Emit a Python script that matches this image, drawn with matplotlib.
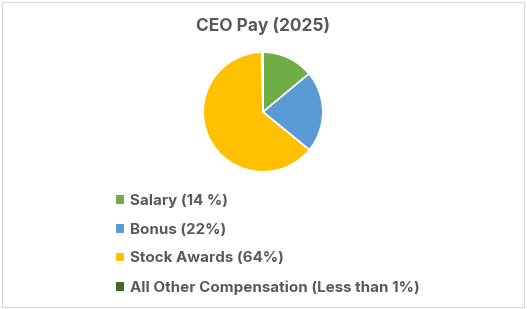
import matplotlib.pyplot as plt
from matplotlib.patches import Patch, Rectangle

# Data
labels = ['Salary (14 %)', 'Bonus (22%)', 'Stock Awards (64%)',
          'All Other Compensation (Less than 1%)']
shares = [14, 22, 64, 0.3]
colors = ['#70AD47', '#5B9BD5', '#FFC000', '#43682B']

plt.rcParams['font.family'] = ['Inter', 'DejaVu Sans']
text_col = '#595959'

fig = plt.figure(figsize=(5.27, 3.09), dpi=100)
fig.patch.set_facecolor('white')

# thin outer border
fig.patches.append(Rectangle((0.004, 0.008), 0.99, 0.985, transform=fig.transFigure,
                             fill=False, edgecolor='#D9D9D9', linewidth=0.8))

fig.text(0.5, 0.915, 'CEO Pay (2025)', ha='center', va='center',
         fontsize=12.5, fontweight='bold', color=text_col)

ax = fig.add_axes([(263 - 61) / 527, 1 - (112 + 61) / 309, 122 / 527, 122 / 309])
ax.pie(shares, colors=colors, startangle=90, counterclock=False,
       wedgeprops=dict(edgecolor='white', linewidth=1.2))
ax.set_xlim(-1.02, 1.02)
ax.set_ylim(-1.02, 1.02)
ax.set_aspect('equal')

handles = [Patch(facecolor=c, edgecolor='none') for c in colors]
leg = fig.legend(handles, labels, loc='upper left', bbox_to_anchor=(110 / 527, 1 - 188 / 309),
                 frameon=False, fontsize=10.9, handlelength=0.5, handleheight=0.5,
                 handletextpad=0.42, labelspacing=0.97, borderaxespad=0)
for t in leg.get_texts():
    t.set_color(text_col)
    t.set_fontweight('bold')

fig.savefig('out.png', dpi=100, facecolor='white')
